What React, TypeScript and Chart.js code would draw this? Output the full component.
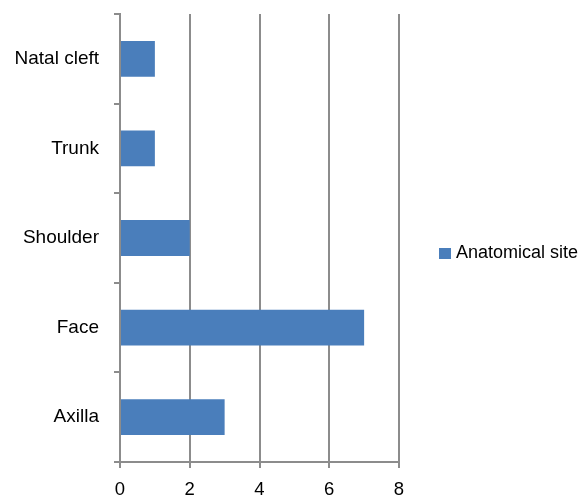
import React, { useEffect, useRef } from "react";
import { Chart, registerables } from "chart.js";

Chart.register(...registerables);

const categories = ["Natal cleft", "Trunk", "Shoulder", "Face", "Axilla"];
const seriesName = "Anatomical site";
const seriesValues = [1, 1, 2, 7, 3];
const xMin = 0;
const xMax = 8;
const xStep = 2;

const BAR_COLOR = "#4a7ebb";
const GRID_COLOR = "#8c8c8c";
const FONT = "'Liberation Sans', Arial, Helvetica, sans-serif";

const legendPlugin = {
  id: "customLegend",
  afterDraw(chart: any) {
    const ctx = chart.ctx;
    ctx.save();
    ctx.fillStyle = BAR_COLOR;
    ctx.fillRect(439, 248, 12, 11);
    ctx.fillStyle = "#000000";
    ctx.font = `18px ${FONT}`;
    ctx.textBaseline = "alphabetic";
    ctx.textAlign = "left";
    ctx.fillText(chart.data.datasets[0].label, 456, 258);
    ctx.restore();
  },
};

export default function App() {
  const ref = useRef<HTMLCanvasElement | null>(null);

  useEffect(() => {
    if (!ref.current) return;
    const chart = new Chart(ref.current, {
      type: "bar",
      data: {
        labels: categories,
        datasets: [
          {
            label: seriesName,
            data: seriesValues,
            backgroundColor: BAR_COLOR,
            borderWidth: 0,
            barPercentage: 0.4,
            categoryPercentage: 1,
          },
        ],
      },
      options: {
        indexAxis: "y",
        animation: false,
        responsive: false,
        maintainAspectRatio: false,
        layout: { padding: { left: 0, top: 14, right: 183, bottom: 0 } },
        plugins: {
          legend: { display: false },
          tooltip: { enabled: false },
        },
        scales: {
          x: {
            min: xMin,
            max: xMax,
            ticks: {
              stepSize: xStep,
              color: "#000000",
              font: { family: FONT, size: 18.5 },
              padding: 11,
            },
            grid: {
              color: GRID_COLOR,
              lineWidth: 2,
              drawTicks: true,
              tickLength: 6,
            },
            border: { display: true, color: GRID_COLOR, width: 2 },
            afterFit: (scale: any) => {
              scale.height = 36;
            },
          },
          y: {
            ticks: {
              color: "#000000",
              font: { family: FONT, size: 19 },
              padding: 15,
            },
            grid: {
              offset: true,
              drawOnChartArea: false,
              drawTicks: true,
              tickLength: 6,
              color: GRID_COLOR,
              lineWidth: 2,
            },
            border: { display: true, color: GRID_COLOR, width: 2 },
            afterFit: (scale: any) => {
              scale.width = 120;
              scale.paddingTop = 0;
              scale.paddingBottom = 0;
            },
          },
        },
      },
      plugins: [legendPlugin],
    });
    return () => chart.destroy();
  }, []);

  return (
    <div style={{ position: "fixed", left: 0, top: 0, width: 582, height: 498, background: "#ffffff" }}>
      <canvas ref={ref} width={582} height={498} style={{ width: 582, height: 498 }} />
    </div>
  );
}
